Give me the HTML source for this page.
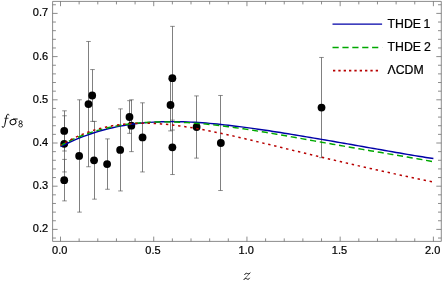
<!DOCTYPE html>
<html><head><meta charset="utf-8"><title>f sigma8</title>
<style>html,body{margin:0;padding:0;background:#fff}body{width:443px;height:286px;position:relative;overflow:hidden}
svg text{font-family:"Liberation Sans",sans-serif;fill:#000;stroke:#000;stroke-width:0.22px}svg text.sf{font-family:"Liberation Serif",serif}</style></head>
<body>
<svg width="443" height="286" viewBox="0 0 443 286" style="position:absolute;left:0;top:0;will-change:transform">
<rect width="443" height="286" fill="#fff"/>
<path d="M64.50 110.82V150.99M64.50 115.78V171.94M64.50 159.42V200.89M79.50 99.80V212.12M88.50 41.48V166.76M92.50 69.56V121.40M94.50 121.40V199.16M107.50 138.90V189.27M120.50 108.87V190.95M129.50 100.66V133.32M131.50 99.80V151.64M142.50 102.82V171.94M170.50 79.06V130.90M172.50 26.36V130.04M172.50 120.10V174.54M196.50 95.91V158.12M220.50 95.48V190.52M321.50 57.46V157.69" stroke="#606060" stroke-width="0.8" fill="none"/>
<path d="M62.20 110.82h4.6M62.20 150.99h4.6M62.20 115.78h4.6M62.20 171.94h4.6M62.20 159.42h4.6M62.20 200.89h4.6M77.20 99.80h4.6M77.20 212.12h4.6M86.20 41.48h4.6M86.20 166.76h4.6M90.20 69.56h4.6M90.20 121.40h4.6M92.20 121.40h4.6M92.20 199.16h4.6M105.20 138.90h4.6M105.20 189.27h4.6M118.20 108.87h4.6M118.20 190.95h4.6M127.20 100.66h4.6M127.20 133.32h4.6M129.20 99.80h4.6M129.20 151.64h4.6M140.20 102.82h4.6M140.20 171.94h4.6M168.20 79.06h4.6M168.20 130.90h4.6M170.20 26.36h4.6M170.20 130.04h4.6M170.20 120.10h4.6M170.20 174.54h4.6M194.20 95.91h4.6M194.20 158.12h4.6M218.20 95.48h4.6M218.20 190.52h4.6M319.20 57.46h4.6M319.20 157.69h4.6" stroke="#505050" stroke-width="0.65" fill="none"/>
<circle cx="64.23" cy="130.90" r="3.9" fill="#000"/>
<circle cx="64.23" cy="143.86" r="3.9" fill="#000"/>
<circle cx="64.23" cy="180.15" r="3.9" fill="#000"/>
<circle cx="79.14" cy="155.96" r="3.9" fill="#000"/>
<circle cx="88.47" cy="104.12" r="3.9" fill="#000"/>
<circle cx="92.20" cy="95.48" r="3.9" fill="#000"/>
<circle cx="94.06" cy="160.28" r="3.9" fill="#000"/>
<circle cx="107.11" cy="164.08" r="3.9" fill="#000"/>
<circle cx="120.16" cy="149.91" r="3.9" fill="#000"/>
<circle cx="129.49" cy="116.99" r="3.9" fill="#000"/>
<circle cx="131.35" cy="125.72" r="3.9" fill="#000"/>
<circle cx="142.54" cy="137.38" r="3.9" fill="#000"/>
<circle cx="170.51" cy="104.98" r="3.9" fill="#000"/>
<circle cx="172.37" cy="78.20" r="3.9" fill="#000"/>
<circle cx="172.37" cy="147.32" r="3.9" fill="#000"/>
<circle cx="196.61" cy="127.02" r="3.9" fill="#000"/>
<circle cx="220.85" cy="143.00" r="3.9" fill="#000"/>
<circle cx="321.53" cy="107.58" r="3.9" fill="#000"/>
<polyline points="60.50,146.63 64.23,144.77 67.96,143.00 71.69,141.30 75.42,139.68 79.14,138.15 82.87,136.69 86.60,135.31 90.33,134.01 94.06,132.78 97.79,131.62 101.52,130.54 105.25,129.53 108.98,128.59 112.71,127.71 116.44,126.90 120.16,126.16 123.89,125.48 127.62,124.86 131.35,124.31 135.08,123.81 138.81,123.36 142.54,122.97 146.27,122.64 150.00,122.35 153.72,122.12 157.45,121.93 161.18,121.79 164.91,121.70 168.64,121.64 172.37,121.63 176.10,121.66 179.83,121.72 183.56,121.82 187.29,121.95 191.02,122.12 194.74,122.32 198.47,122.55 202.20,122.81 205.93,123.09 209.66,123.40 213.39,123.73 217.12,124.09 220.85,124.47 224.58,124.87 228.31,125.28 232.03,125.72 235.76,126.17 239.49,126.64 243.22,127.12 246.95,127.62 250.68,128.13 254.41,128.65 258.14,129.18 261.87,129.73 265.60,130.28 269.32,130.84 273.05,131.41 276.78,131.99 280.51,132.58 284.24,133.17 287.97,133.77 291.70,134.37 295.43,134.98 299.16,135.60 302.88,136.21 306.61,136.84 310.34,137.46 314.07,138.09 317.80,138.73 321.53,139.37 325.26,140.01 328.99,140.65 332.72,141.29 336.45,141.94 340.17,142.59 343.90,143.24 347.63,143.89 351.36,144.55 355.09,145.20 358.82,145.86 362.55,146.52 366.28,147.18 370.01,147.84 373.74,148.49 377.46,149.15 381.19,149.81 384.92,150.47 388.65,151.12 392.38,151.77 396.11,152.42 399.84,153.07 403.57,153.71 407.30,154.35 411.03,154.98 414.75,155.60 418.48,156.21 422.21,156.82 425.94,157.41 429.67,157.99 433.40,158.56" fill="none" stroke="#0000a8" stroke-width="1.45"/>
<polyline points="60.50,145.53 64.23,143.56 67.96,141.70 71.69,139.94 75.42,138.29 79.14,136.74 82.87,135.28 86.60,133.92 90.33,132.65 94.06,131.46 97.79,130.35 101.52,129.33 105.25,128.39 108.98,127.52 112.71,126.72 116.44,125.99 120.16,125.33 123.89,124.74 127.62,124.21 131.35,123.74 135.08,123.33 138.81,122.97 142.54,122.67 146.27,122.42 150.00,122.22 153.72,122.07 157.45,121.97 161.18,121.91 164.91,121.89 168.64,121.92 172.37,121.98 176.10,122.08 179.83,122.22 183.56,122.40 187.29,122.60 191.02,122.84 194.74,123.11 198.47,123.41 202.20,123.73 205.93,124.09 209.66,124.46 213.39,124.86 217.12,125.29 220.85,125.73 224.58,126.20 228.31,126.68 232.03,127.18 235.76,127.70 239.49,128.24 243.22,128.79 246.95,129.35 250.68,129.92 254.41,130.51 258.14,131.11 261.87,131.72 265.60,132.34 269.32,132.96 273.05,133.60 276.78,134.23 280.51,134.88 284.24,135.53 287.97,136.19 291.70,136.84 295.43,137.51 299.16,138.17 302.88,138.84 306.61,139.50 310.34,140.17 314.07,140.84 317.80,141.51 321.53,142.17 325.26,142.84 328.99,143.50 332.72,144.17 336.45,144.83 340.17,145.49 343.90,146.14 347.63,146.80 351.36,147.45 355.09,148.10 358.82,148.74 362.55,149.39 366.28,150.03 370.01,150.67 373.74,151.30 377.46,151.94 381.19,152.58 384.92,153.21 388.65,153.84 392.38,154.48 396.11,155.11 399.84,155.75 403.57,156.39 407.30,157.03 411.03,157.68 414.75,158.33 418.48,158.99 422.21,159.66 425.94,160.34 429.67,161.03 433.40,161.73" fill="none" stroke="#00a800" stroke-width="1.45" stroke-dasharray="6.1 3.708" stroke-dashoffset="0.3"/>
<polyline points="60.50,145.37 64.23,143.15 67.96,141.07 71.69,139.12 75.42,137.31 79.14,135.63 82.87,134.08 86.60,132.64 90.33,131.33 94.06,130.13 97.79,129.03 101.52,128.05 105.25,127.17 108.98,126.39 112.71,125.70 116.44,125.11 120.16,124.60 123.89,124.18 127.62,123.84 131.35,123.58 135.08,123.40 138.81,123.29 142.54,123.24 146.27,123.26 150.00,123.35 153.72,123.49 157.45,123.69 161.18,123.95 164.91,124.25 168.64,124.61 172.37,125.01 176.10,125.45 179.83,125.93 183.56,126.46 187.29,127.01 191.02,127.61 194.74,128.23 198.47,128.88 202.20,129.56 205.93,130.27 209.66,131.00 213.39,131.75 217.12,132.52 220.85,133.31 224.58,134.12 228.31,134.94 232.03,135.77 235.76,136.62 239.49,137.47 243.22,138.34 246.95,139.22 250.68,140.10 254.41,140.99 258.14,141.88 261.87,142.78 265.60,143.68 269.32,144.59 273.05,145.49 276.78,146.40 280.51,147.31 284.24,148.22 287.97,149.13 291.70,150.03 295.43,150.94 299.16,151.84 302.88,152.74 306.61,153.64 310.34,154.54 314.07,155.43 317.80,156.32 321.53,157.21 325.26,158.09 328.99,158.97 332.72,159.84 336.45,160.72 340.17,161.59 343.90,162.45 347.63,163.31 351.36,164.17 355.09,165.02 358.82,165.87 362.55,166.72 366.28,167.56 370.01,168.40 373.74,169.24 377.46,170.07 381.19,170.90 384.92,171.72 388.65,172.54 392.38,173.36 396.11,174.17 399.84,174.98 403.57,175.78 407.30,176.57 411.03,177.36 414.75,178.15 418.48,178.93 422.21,179.70 425.94,180.46 429.67,181.21 433.40,181.96" fill="none" stroke="#b80000" stroke-width="1.5" stroke-dasharray="2.4 3.734" stroke-dashoffset="0.9"/>
<path d="M52.6 1.4H441.3V241.4H52.6ZM60.50 241.4v-4.8M60.50 1.4v4.8M79.14 241.4v-3M79.14 1.4v3M97.79 241.4v-3M97.79 1.4v3M116.44 241.4v-3M116.44 1.4v3M135.08 241.4v-3M135.08 1.4v3M153.72 241.4v-4.8M153.72 1.4v4.8M172.37 241.4v-3M172.37 1.4v3M191.01 241.4v-3M191.01 1.4v3M209.66 241.4v-3M209.66 1.4v3M228.31 241.4v-3M228.31 1.4v3M246.95 241.4v-4.8M246.95 1.4v4.8M265.60 241.4v-3M265.60 1.4v3M284.24 241.4v-3M284.24 1.4v3M302.88 241.4v-3M302.88 1.4v3M321.53 241.4v-3M321.53 1.4v3M340.17 241.4v-4.8M340.17 1.4v4.8M358.82 241.4v-3M358.82 1.4v3M377.46 241.4v-3M377.46 1.4v3M396.11 241.4v-3M396.11 1.4v3M414.75 241.4v-3M414.75 1.4v3M433.40 241.4v-4.8M433.40 1.4v4.8M52.6 238.04h3.3M441.3 238.04h-3.3M52.6 229.40h5M441.3 229.40h-5M52.6 220.76h3.3M441.3 220.76h-3.3M52.6 212.12h3.3M441.3 212.12h-3.3M52.6 203.48h3.3M441.3 203.48h-3.3M52.6 194.84h3.3M441.3 194.84h-3.3M52.6 186.20h5M441.3 186.20h-5M52.6 177.56h3.3M441.3 177.56h-3.3M52.6 168.92h3.3M441.3 168.92h-3.3M52.6 160.28h3.3M441.3 160.28h-3.3M52.6 151.64h3.3M441.3 151.64h-3.3M52.6 143.00h5M441.3 143.00h-5M52.6 134.36h3.3M441.3 134.36h-3.3M52.6 125.72h3.3M441.3 125.72h-3.3M52.6 117.08h3.3M441.3 117.08h-3.3M52.6 108.44h3.3M441.3 108.44h-3.3M52.6 99.80h5M441.3 99.80h-5M52.6 91.16h3.3M441.3 91.16h-3.3M52.6 82.52h3.3M441.3 82.52h-3.3M52.6 73.88h3.3M441.3 73.88h-3.3M52.6 65.24h3.3M441.3 65.24h-3.3M52.6 56.60h5M441.3 56.60h-5M52.6 47.96h3.3M441.3 47.96h-3.3M52.6 39.32h3.3M441.3 39.32h-3.3M52.6 30.68h3.3M441.3 30.68h-3.3M52.6 22.04h3.3M441.3 22.04h-3.3M52.6 13.40h5M441.3 13.40h-5M52.6 4.76h3.3M441.3 4.76h-3.3" stroke="#6e6e6e" stroke-width="0.8" fill="none"/>
<text x="48.1" y="232.40" text-anchor="end" font-size="11">0.2</text>
<text x="48.1" y="189.20" text-anchor="end" font-size="11">0.3</text>
<text x="48.1" y="146.00" text-anchor="end" font-size="11">0.4</text>
<text x="48.1" y="102.80" text-anchor="end" font-size="11">0.5</text>
<text x="48.1" y="59.60" text-anchor="end" font-size="11">0.6</text>
<text x="48.1" y="16.40" text-anchor="end" font-size="11">0.7</text>
<text x="59.75" y="254.1" text-anchor="middle" font-size="11">0.0</text>
<text x="152.97" y="254.1" text-anchor="middle" font-size="11">0.5</text>
<text x="246.20" y="254.1" text-anchor="middle" font-size="11">1.0</text>
<text x="339.42" y="254.1" text-anchor="middle" font-size="11">1.5</text>
<text x="432.65" y="254.1" text-anchor="middle" font-size="11">2.0</text>
<path d="M332.5 24.1H382.1" stroke="#0000a8" stroke-width="1.3"/>
<path d="M332.5 47.5H382.1" stroke="#00a800" stroke-width="1.35" stroke-dasharray="6.2 3.7"/>
<path d="M333 70.6H380" stroke="#b80000" stroke-width="1.6" stroke-dasharray="2.3 3.04"/>
<text x="387.5" y="27.6" font-size="12.3">THDE <tspan dx="-0.8">1</tspan></text>
<text x="387.5" y="50.6" font-size="12.3">THDE <tspan dx="-0.3">2</tspan></text>
<text x="387.5" y="74.3" font-size="12.3">ΛCDM</text>
<path d="M9.0 115.0C8.9 114.2 7.9 113.9 7.3 114.5C6.6 115.2 6.4 116.6 6.1 118.2L4.9 124.3C4.6 125.9 4.1 127.3 3.1 127.4C2.5 127.5 2.0 127.1 2.1 126.6" fill="none" stroke="#000" stroke-width="1.0" stroke-linecap="round"/><path d="M4.4 118.3H8.5" stroke="#000" stroke-width="0.7"/>
<ellipse cx="13.0" cy="122.0" rx="3.0" ry="2.55" transform="rotate(-25 13.0 122.0)" fill="none" stroke="#000" stroke-width="0.95"/><path d="M13.2 119.0H17.7" stroke="#000" stroke-width="0.95"/>
<g fill="none" stroke="#000" stroke-width="0.8"><ellipse cx="20.6" cy="122.1" rx="1.45" ry="1.45"/><ellipse cx="20.6" cy="125.3" rx="1.85" ry="1.7"/></g>
<g fill="none" stroke="#000" stroke-linecap="round"><path d="M244.7 274.6C245.3 273.2 246.4 273.0 247.3 273.5C248.2 274.0 249.2 274.0 250.0 273.0" stroke-width="0.9"/><path d="M250.0 273.0L244.1 279.4" stroke-width="0.55"/><path d="M244.1 279.4C245.0 278.2 246.0 278.3 246.9 278.9C247.8 279.6 248.9 279.5 249.5 278.2" stroke-width="0.9"/></g>
</svg>
</body></html>
